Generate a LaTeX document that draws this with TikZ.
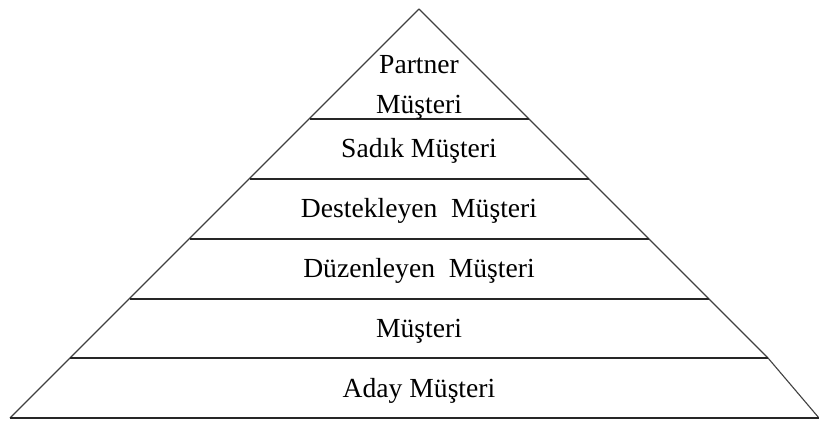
\documentclass[tikz,border=0pt]{standalone}
\usepackage{fontspec}
\setmainfont{Liberation Serif}
\begin{document}
\begin{tikzpicture}[x=1pt,y=-1pt,
  edge/.style={draw=black!75,line width=1.1pt},
  tier/.style={draw=black!85,line width=1.3pt},
  label/.style={anchor=base,inner sep=0pt,font=\fontsize{27.6}{32}\selectfont}]
  \useasboundingbox (0,0) rectangle (819,421);

  % outline of the pyramid
  \coordinate (apex) at (419,9);
  \coordinate (bl) at (10,418);
  \coordinate (br) at (819,418);
  \coordinate (rk) at (768,358);
  \draw[edge,line join=round] (bl) -- (apex) -- (rk) -- (br);
  \draw[tier] (bl) -- (br);

  % tier dividers
  \coordinate (l1) at (310,119); \coordinate (r1) at (529,119);
  \coordinate (l2) at (250,179); \coordinate (r2) at (589,179);
  \coordinate (l3) at (190,239); \coordinate (r3) at (649,239);
  \coordinate (l4) at (130,299); \coordinate (r4) at (709,299);
  \coordinate (l5) at (70,358);  \coordinate (r5) at (768,358);
  \foreach \i in {1,...,5} \draw[tier] (l\i) -- (r\i);

  % tier labels
  \node[label] (t0a) at (419,73) {Partner};
  \node[label] (t0b) at (419,113) {Müşteri};
  \node[label] (t1) at (419,157) {Sadık Müşteri};
  \node[label] (t2) at (419,217) {Destekleyen\ \ Müşteri};
  \node[label] (t3) at (419,277) {Düzenleyen\ \ Müşteri};
  \node[label] (t4) at (419,337) {Müşteri};
  \node[label] (t5) at (419,397) {Aday Müşteri};
\end{tikzpicture}
\end{document}
